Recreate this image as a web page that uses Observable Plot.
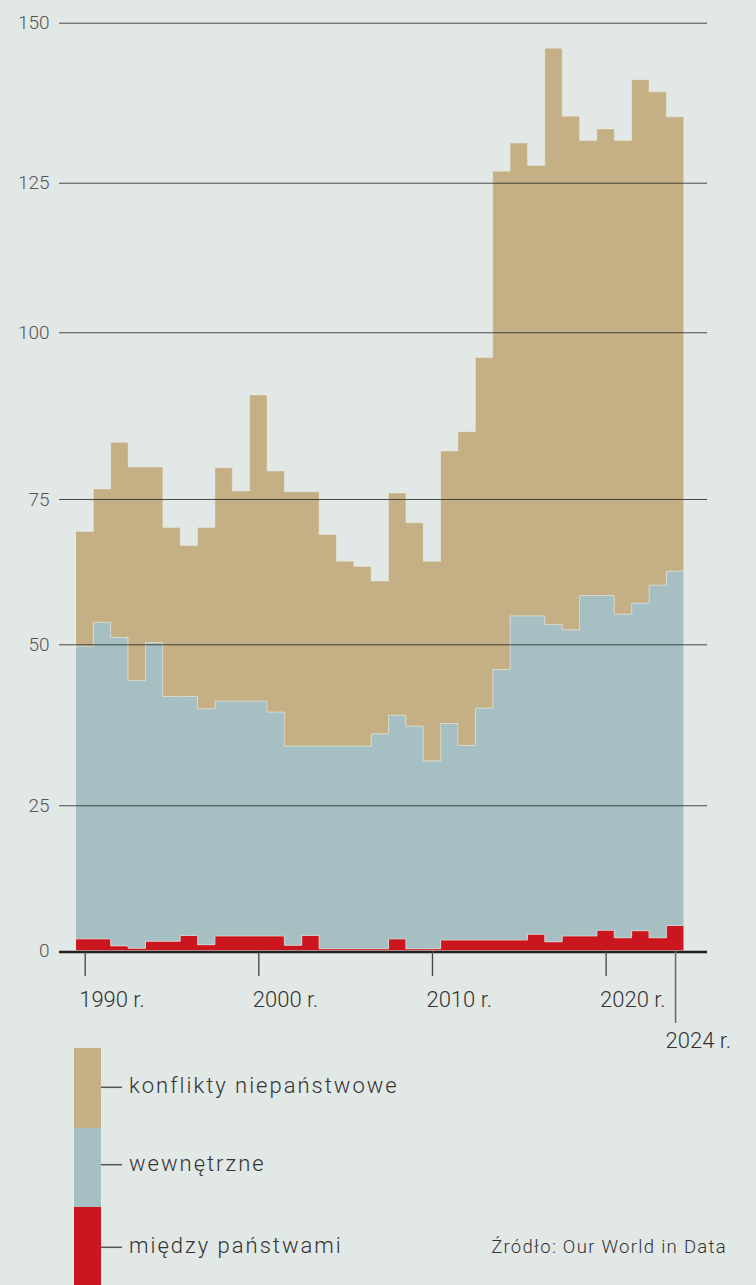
<!DOCTYPE html>
<html><head><meta charset="utf-8">
<script src="https://cdn.jsdelivr.net/npm/d3@7"></script>
<script src="https://cdn.jsdelivr.net/npm/@observablehq/plot@0.6"></script>
<style>
html,body{margin:0;padding:0;background:#e2e8e5;}
#chart{width:756px;position:relative;}
svg{display:block;}
#chart svg.plot text{letter-spacing:0.8px;}
</style></head><body><div id="chart"></div>
<script>
const years = [1990,1991,1992,1993,1994,1995,1996,1997,1998,1999,2000,2001,2002,2003,2004,2005,2006,2007,2008,2009,2010,2011,2012,2013,2014,2015,2016,2017,2018,2019,2020,2021,2022,2023,2024];
const interstate = [2.0,2.0,0.8,0.4,1.6,1.6,2.6,1.0,2.5,2.5, 2.5,2.5,0.9,2.6,0.3,0.3,0.3,0.3,2.0,0.3, 0.3,1.8,1.8,1.8,1.8,1.8,2.8,1.5,2.5,2.5, 3.5,2.2,3.4,2.2,4.3];
const internal = [47.7,51.8,50.4,44.0,48.7,40.3,39.3,39.0,38.7,38.7, 38.7,37.0,33.3,31.6,33.9,33.9,33.9,35.8,37.0,37.0, 31.6,35.9,32.5,38.3,44.3,53.1,52.1,51.9,50.0,55.9, 54.9,53.0,53.7,58.0,58.3];
const nonstate = [19.7,22.7,32.3,35.4,29.5,28.2,25.1,30.1,38.5,35.0, 49.4,39.7,41.9,41.9,34.7,30.1,29.2,24.8,36.9,33.6, 32.4,44.5,50.8,56.1,80.7,76.3,72.8,92.6,82.9,73.2, 75.0,76.4,84.0,79.0,72.7];
const seriesNames = ["między państwami","wewnętrzne","konflikty niepaństwowe"];
const seriesColors = ["#cc161f","#a6bfc2","#c4b084"];
const yTicks = [0,25,50,75,100,125,150];
// the reference's value axis is slightly uneven: where each tick value sits on an even 0–150 axis
const yTickSpots = [0,23.48,49.50,73.00,99.95,124.13,150];
const xTicks = [1990,2000,2010,2020];
const xLastTick = [2024];
const source = "Źródło: Our World in Data";

const seriesValues = [interstate, internal, nonstate];
const rows = [];
seriesValues.forEach((vals, s) => {
  years.forEach((yr, i) => rows.push({x: yr - 0.5, y: vals[i], series: seriesNames[s]}));
  rows.push({x: years[years.length-1] + 0.5, y: vals[vals.length-1], series: seriesNames[s]});
});

const yWarp = d3.scaleLinear().domain(yTicks).range(yTickSpots);
const font = "Roboto, 'Open Sans', sans-serif";
const fmt = d => `${d} r.`;

const plot = Plot.plot({
  width: 756,
  height: 1030,
  marginLeft: 59,
  marginRight: 49,
  marginTop: 0,
  marginBottom: 79,
  style: {background: "#e2e8e5", fontFamily: font, fontWeight: 300, overflow: "visible"},
  x: {domain: [1988.52, 2025.84], axis: null},
  y: {domain: [0, 150], range: [950.5, 22.7], transform: yWarp, axis: null},
  color: {domain: seriesNames, range: seriesColors},
  marks: [
    Plot.areaY(rows, Plot.stackY({x: "x", y: "y", z: "series", fill: "series", order: seriesNames, curve: "step-after", stroke: "#eef0ea", strokeOpacity: 0.45, strokeWidth: 0.9})),
    Plot.ruleY(yTicks.filter(d => d > 0), {stroke: "#2e2e2e", strokeOpacity: 0.85, strokeWidth: 1}),
    Plot.ruleY([0], {stroke: "#222", strokeWidth: 2.6, dy: 1}),
    Plot.axisY(yTicks, {anchor: "left", label: null, tickSize: 0, tickPadding: 10, fontSize: 19, fill: "#555", tickFormat: d => String(d)}),
    Plot.axisX(xTicks, {anchor: "bottom", label: null, tickSize: 25, tickFormat: () => "", stroke: "#444", strokeWidth: 1.3}),
    Plot.axisX(xLastTick, {anchor: "bottom", label: null, tickSize: 72, tickFormat: () => "", stroke: "#666", strokeWidth: 1.5}),
    Plot.axisX(xTicks, {anchor: "bottom", label: null, tickSize: 0, tickPadding: 39.4, tickFormat: fmt, textAnchor: "start", dx: -6, fontSize: 22, fill: "#333", stroke: "none"}),
    Plot.axisX(xLastTick, {anchor: "bottom", label: null, tickSize: 0, tickPadding: 81, tickFormat: fmt, textAnchor: "start", dx: -10, fontSize: 22, fill: "#333", stroke: "none"})
  ]
});
document.getElementById("chart").appendChild(plot);

// legend below the chart
const leg = d3.create("svg").attr("width", 756).attr("height", 255)
  .style("background", "#e2e8e5").style("font-family", font).style("font-weight", 300);
const legOrder = [2, 1, 0];
const bands = [[18, 98], [98, 177], [177, 256]];
const lineY = [57.3, 134.7, 217.3];
const baseY = [63.3, 141.3, 222.7];
legOrder.forEach((s, k) => {
  leg.append("rect").attr("x", 74).attr("y", bands[k][0]).attr("width", 27).attr("height", bands[k][1] - bands[k][0]).attr("fill", seriesColors[s]);
  leg.append("line").attr("x1", 101).attr("x2", 122).attr("y1", lineY[k]).attr("y2", lineY[k]).attr("stroke", "#555").attr("stroke-width", 1.5);
  leg.append("text").attr("x", 129).attr("y", baseY[k]).attr("font-size", 22).attr("letter-spacing", "2px").attr("fill", "#333").text(seriesNames[s]);
});
leg.append("text").attr("x", 727).attr("y", 222.7).attr("text-anchor", "end").attr("font-size", 18.5).attr("letter-spacing", "1.3px").attr("fill", "#333").text(source);
document.getElementById("chart").appendChild(leg.node());
</script>
</body></html>
